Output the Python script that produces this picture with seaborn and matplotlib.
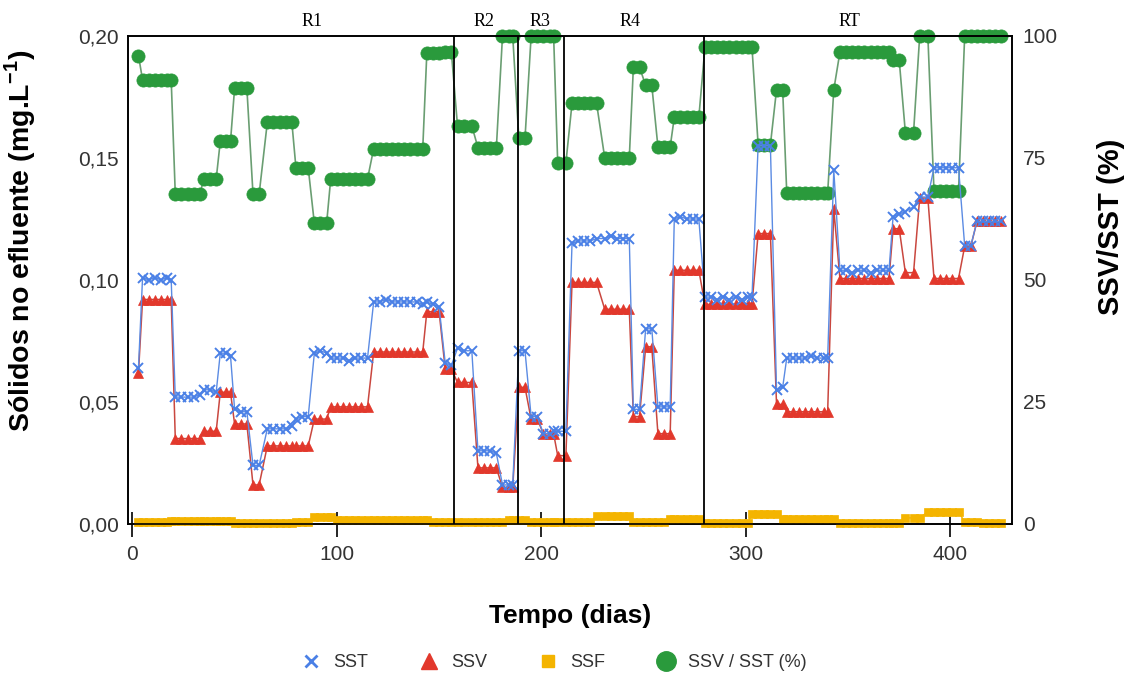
import matplotlib
matplotlib.use("Agg")
import matplotlib.pyplot as plt
import seaborn as sns
import pandas as pd
from matplotlib.lines import Line2D
from matplotlib.ticker import FuncFormatter, FixedLocator

# ---------------- data ----------------
dias = [3,
        5, 8, 11, 14, 17, 19,
        21, 24, 27, 30, 33,
        35, 38, 41,
        43, 46, 48,
        50, 53, 56,
        59, 62,
        66, 69, 72, 75, 78,
        80, 83, 86,
        89, 92, 95,
        97, 100, 103, 106, 109, 112, 115,
        118, 121, 124, 127, 130, 133, 136, 139, 142,
        144, 147, 150,
        153, 156,
        159, 162, 166,
        169, 172, 175, 178,
        181, 184, 186,
        189, 192,
        195, 198,
        201, 204, 206,
        208, 212,
        215, 218, 221, 224, 227,
        231, 234, 237, 240, 243,
        245, 248,
        251, 254,
        257, 260, 263,
        265, 268, 271, 274, 277,
        280, 283, 286, 289, 292, 295, 298, 301, 303,
        306, 309, 312,
        315, 318,
        320, 323, 326, 329, 332, 335, 338, 340,
        343,
        346, 349, 352, 355, 358, 361, 364, 367, 370,
        372, 375,
        378, 382,
        385, 389,
        392, 395, 398, 401, 404,
        407, 410,
        413, 416, 419, 422, 425]

sst = [0.064,
       0.101, 0.100, 0.101, 0.100, 0.101, 0.100,
       0.052, 0.052, 0.052, 0.052, 0.053,
       0.055, 0.055, 0.054,
       0.070, 0.070, 0.069,
       0.047, 0.046, 0.046,
       0.024, 0.024,
       0.039, 0.039, 0.039, 0.039, 0.040,
       0.043, 0.044, 0.044,
       0.070, 0.071, 0.070,
       0.068, 0.068, 0.068, 0.067, 0.068, 0.068, 0.068,
       0.091, 0.091, 0.092, 0.091, 0.091, 0.091, 0.091, 0.091, 0.090,
       0.091, 0.090, 0.089,
       0.066, 0.065,
       0.072, 0.071, 0.071,
       0.030, 0.030, 0.030, 0.029,
       0.016, 0.016, 0.016,
       0.071, 0.071,
       0.044, 0.044,
       0.037, 0.037, 0.038,
       0.038, 0.038,
       0.115, 0.116, 0.116, 0.116, 0.117,
       0.117, 0.118, 0.117, 0.117, 0.117,
       0.047, 0.047,
       0.080, 0.080,
       0.048, 0.048, 0.048,
       0.125, 0.126, 0.125, 0.125, 0.125,
       0.093, 0.093, 0.092, 0.093, 0.092, 0.093, 0.092, 0.093, 0.093,
       0.155, 0.155, 0.155,
       0.055, 0.056,
       0.068, 0.068, 0.068, 0.068, 0.069, 0.068, 0.068, 0.068,
       0.145,
       0.104, 0.104, 0.103, 0.104, 0.104, 0.103, 0.104, 0.104, 0.104,
       0.126, 0.127,
       0.128, 0.130,
       0.134, 0.134,
       0.146, 0.146, 0.146, 0.146, 0.146,
       0.114, 0.114,
       0.124, 0.124, 0.124, 0.124, 0.124]

ssv = [0.062,
       0.092, 0.092, 0.092, 0.092, 0.092, 0.092,
       0.035, 0.035, 0.035, 0.035, 0.035,
       0.038, 0.038, 0.038,
       0.054, 0.054, 0.054,
       0.041, 0.041, 0.041,
       0.016, 0.016,
       0.032, 0.032, 0.032, 0.032, 0.032,
       0.032, 0.032, 0.032,
       0.043, 0.043, 0.043,
       0.048, 0.048, 0.048, 0.048, 0.048, 0.048, 0.048,
       0.0705, 0.0705, 0.0705, 0.0705, 0.0705, 0.0705, 0.0705, 0.0705, 0.0705,
       0.087, 0.087, 0.087,
       0.0635, 0.0635,
       0.058, 0.058, 0.058,
       0.023, 0.023, 0.023, 0.023,
       0.015, 0.015, 0.015,
       0.056, 0.056,
       0.043, 0.043,
       0.037, 0.037, 0.037,
       0.028, 0.028,
       0.099, 0.099, 0.099, 0.099, 0.099,
       0.088, 0.088, 0.088, 0.088, 0.088,
       0.044, 0.044,
       0.0726, 0.0726,
       0.037, 0.037, 0.037,
       0.104, 0.104, 0.104, 0.104, 0.104,
       0.090, 0.090, 0.090, 0.090, 0.090, 0.090, 0.090, 0.090, 0.090,
       0.119, 0.119, 0.119,
       0.049, 0.049,
       0.046, 0.046, 0.046, 0.046, 0.046, 0.046, 0.046, 0.046,
       0.129,
       0.1006, 0.1006, 0.1006, 0.1006, 0.1006, 0.1006, 0.1006, 0.1006, 0.1006,
       0.121, 0.121,
       0.103, 0.103,
       0.1336, 0.1336,
       0.1006, 0.1006, 0.1006, 0.1006, 0.1006,
       0.1138, 0.1138,
       0.124, 0.124, 0.124, 0.124, 0.124]

ssf = [0.0010,
       0.0010, 0.0010, 0.0010, 0.0010, 0.0010, 0.0014,
       0.0014, 0.0014, 0.0014, 0.0014, 0.0014,
       0.0014, 0.0014, 0.0014,
       0.0014, 0.0014, 0.0014,
       0.0006, 0.0006, 0.0006,
       0.0006, 0.0006,
       0.0006, 0.0006, 0.0006, 0.0006, 0.0006,
       0.0010, 0.0010, 0.0010,
       0.0030, 0.0030, 0.0030,
       0.0030, 0.0018, 0.0018, 0.0018, 0.0018, 0.0018, 0.0018,
       0.0018, 0.0018, 0.0018, 0.0018, 0.0018, 0.0018, 0.0018, 0.0018, 0.0018,
       0.0018, 0.0007, 0.0007,
       0.0007, 0.0007,
       0.0008, 0.0008, 0.0008,
       0.0008, 0.0008, 0.0008, 0.0008,
       0.0008, 0.0016, 0.0016,
       0.0016, 0.0016,
       0.0010, 0.0010,
       0.0010, 0.0010, 0.0010,
       0.0010, 0.0010,
       0.0010, 0.0010, 0.0010, 0.0010, 0.0032,
       0.0032, 0.0032, 0.0032, 0.0032, 0.0032,
       0.0008, 0.0008,
       0.0008, 0.0008,
       0.0008, 0.0008, 0.0022,
       0.0022, 0.0022, 0.0022, 0.0022, 0.0022,
       0.0006, 0.0006, 0.0006, 0.0006, 0.0006, 0.0006, 0.0006, 0.0006, 0.0040,
       0.0040, 0.0040, 0.0040,
       0.0040, 0.0020,
       0.0020, 0.0020, 0.0020, 0.0020, 0.0020, 0.0020, 0.0020, 0.0020,
       0.0020,
       0.0006, 0.0006, 0.0006, 0.0006, 0.0006, 0.0006, 0.0006, 0.0006, 0.0006,
       0.0006, 0.0006,
       0.0025, 0.0025,
       0.0025, 0.0050,
       0.0050, 0.0050, 0.0050, 0.0050, 0.0050,
       0.0008, 0.0008,
       0.0008, 0.0005, 0.0005, 0.0005, 0.0005]

razao = [96,
         91, 91, 91, 91, 91, 91,
         67.6, 67.6, 67.6, 67.6, 67.6,
         70.7, 70.7, 70.7,
         78.4, 78.4, 78.4,
         89.3, 89.3, 89.3,
         67.6, 67.6,
         82.3, 82.3, 82.3, 82.3, 82.3,
         73, 73, 73,
         61.6, 61.6, 61.6,
         70.7, 70.7, 70.7, 70.7, 70.7, 70.7, 70.7,
         76.9, 76.9, 76.9, 76.9, 76.9, 76.9, 76.9, 76.9, 76.9,
         96.5, 96.5, 96.5,
         96.7, 96.7,
         81.6, 81.6, 81.6,
         77.1, 77.1, 77.1, 77.1,
         100, 100, 100,
         79, 79,
         100, 100,
         100, 100, 100,
         74, 74,
         86.2, 86.2, 86.2, 86.2, 86.2,
         75, 75, 75, 75, 75,
         93.6, 93.6,
         89.9, 89.9,
         77.3, 77.3, 77.3,
         83.3, 83.3, 83.3, 83.3, 83.3,
         97.7, 97.7, 97.7, 97.7, 97.7, 97.7, 97.7, 97.7, 97.7,
         77.7, 77.7, 77.7,
         89, 89,
         67.8, 67.8, 67.8, 67.8, 67.8, 67.8, 67.8, 67.8,
         89,
         96.7, 96.7, 96.7, 96.7, 96.7, 96.7, 96.7, 96.7, 96.7,
         95, 95,
         80.2, 80.2,
         100, 100,
         68.2, 68.2, 68.2, 68.2, 68.2,
         100, 100,
         100, 100, 100, 100, 100]

fases = ["R1", "R2", "R3", "R4", "RT"]
fases_x = [88, 172, 199.5, 243.5, 350.5]
limites_fases = [157.2, 188.6, 211.0, 279.4]
xticks = [0, 100, 200, 300, 400]
yticks_esq = [0.00, 0.05, 0.10, 0.15, 0.20]
yticks_dir = [0, 25, 50, 75, 100]

assert len(dias) == len(sst) == len(ssv) == len(ssf) == len(razao)

# ---------------- style ----------------
sns.set_theme(style="white")
plt.rcParams['font.family'] = ['Liberation Sans', 'DejaVu Sans']
plt.rcParams['mathtext.fontset'] = 'custom'
plt.rcParams['mathtext.rm'] = 'Liberation Sans'
plt.rcParams['mathtext.bf'] = 'Liberation Sans:bold'

c_sst = '#4a80e6'
c_ssv = '#e2382c'
c_ssf = '#f4b400'
c_raz = '#2a9a3c'
txt = '#333333'

df = pd.DataFrame({"dia": dias, "SST": sst, "SSV": ssv, "SSF": ssf, "razao": razao})

fig = plt.figure(figsize=(11.25, 6.79), dpi=100)
ax = fig.add_axes([0.114, 0.2283, 0.7853, 0.7187])
ax2 = ax.twinx()
ax.set_zorder(2)
ax2.set_zorder(1)
ax.patch.set_visible(False)

common = dict(estimator=None, errorbar=None, legend=False, clip_on=False)

sns.lineplot(data=df, x="dia", y="razao", ax=ax2, color='#6a9e72', linewidth=1.2,
             marker='o', markersize=9.5, markerfacecolor=c_raz, markeredgecolor=c_raz,
             markeredgewidth=0.5, **common)
sns.lineplot(data=df, x="dia", y="SSF", ax=ax, color=c_ssf, linewidth=1.0,
             marker='s', markersize=6, markerfacecolor=c_ssf, markeredgecolor=c_ssf,
             markeredgewidth=0.5, **common)
sns.lineplot(data=df, x="dia", y="SSV", ax=ax, color='#c9473f', linewidth=1.1,
             marker='^', markersize=7, markerfacecolor=c_ssv, markeredgecolor=c_ssv,
             markeredgewidth=0.5, **common)
sns.lineplot(data=df, x="dia", y="SST", ax=ax, color='#5b8be3', linewidth=1.0,
             marker='x', markersize=6.5, markeredgecolor=c_sst, markeredgewidth=1.4,
             **common)

for xv in limites_fases:
    ax.axvline(xv, color='black', linewidth=1.3, zorder=10)

for lab, xv in zip(fases, fases_x):
    ax.text(xv, 1.029, lab, transform=ax.get_xaxis_transform(), ha='center',
            va='center', fontsize=13, family=['Liberation Serif', 'DejaVu Serif'],
            color='black')

ax.set_xlim(-2, 430)
ax.set_ylim(0, 0.2)
ax2.set_ylim(0, 100)

ax.xaxis.set_major_locator(FixedLocator(xticks))
ax.yaxis.set_major_locator(FixedLocator(yticks_esq))
ax2.yaxis.set_major_locator(FixedLocator(yticks_dir))
ax.yaxis.set_major_formatter(FuncFormatter(lambda v, p: f"{v:.2f}".replace('.', ',')))

ax.tick_params(axis='x', direction='inout', length=18, width=1.2, color='black',
               labelsize=15, labelcolor=txt, pad=6, bottom=True)
ax.tick_params(axis='y', length=0, labelsize=15, labelcolor=txt, pad=7)
ax2.tick_params(axis='y', length=0, labelsize=15, labelcolor=txt, pad=8)

for a in (ax, ax2):
    for s in a.spines.values():
        s.set_visible(True)
        s.set_color('black')
        s.set_linewidth(1.2)

ax.set_xlabel("Tempo (dias)", fontsize=19, fontweight='bold', color='black')
ax.xaxis.set_label_coords(0.5, -0.164)
ax.set_ylabel(r"Sólidos no efluente (mg.L$^{\mathbf{-1}}$)", fontsize=20.5,
              fontweight='bold', color='black')
ax.yaxis.set_label_coords(-0.102, 0.581)
ax2.set_ylabel("SSV/SST (%)", fontsize=21, fontweight='bold', color='black')
ax2.yaxis.set_label_coords(1.097, 0.608)

handles = [
    Line2D([], [], ls='none', marker='x', markersize=8, markeredgewidth=2, color=c_sst),
    Line2D([], [], ls='none', marker='^', markersize=11, color=c_ssv),
    Line2D([], [], ls='none', marker='s', markersize=9, color=c_ssf),
    Line2D([], [], ls='none', marker='o', markersize=14, color=c_raz),
]
labels = ["SST", "SSV", "SSF", "SSV / SST (%)"]
leg = fig.legend(handles, labels, loc='center', bbox_to_anchor=(0.492, 0.0236), ncol=4,
                 frameon=False, fontsize=13, columnspacing=2.8, handletextpad=0.6,
                 handlelength=1.2)
for t in leg.get_texts():
    t.set_color(txt)

fig.savefig("out.png", dpi=100, facecolor='white')
